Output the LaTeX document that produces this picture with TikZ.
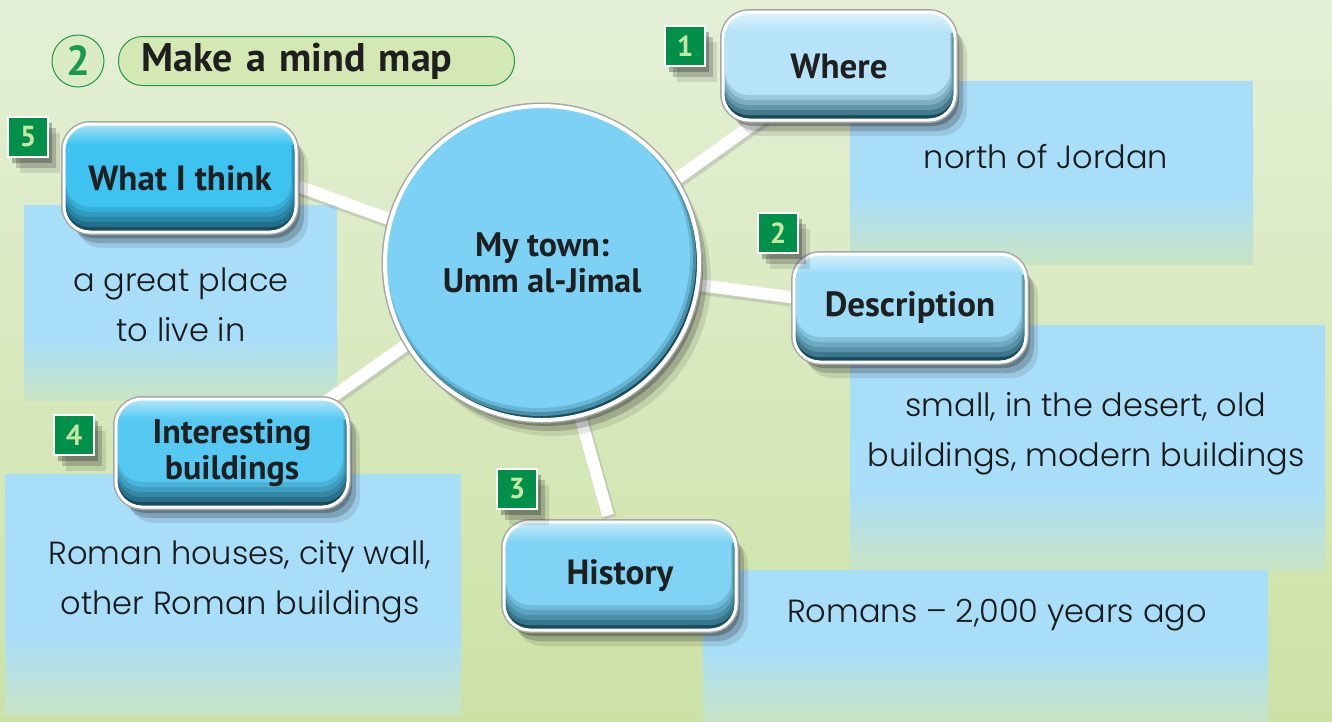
\documentclass[tikz,border=0pt]{standalone}
\usepackage{fontspec}
\setmainfont{PT Sans}
\newfontfamily\hand{Poppins Light}
\usetikzlibrary{shadows}
\definecolor{bgtop}{HTML}{E4F0D6}
\definecolor{bgbot}{HTML}{CCE2A5}
\definecolor{tbblue}{HTML}{A9DEF9}
\definecolor{tbfade}{HTML}{C8E4C4}
\definecolor{gbadge}{HTML}{00904A}
\definecolor{gnum}{HTML}{C9E6A2}
\definecolor{rim}{HTML}{164C5E}
\definecolor{cWhere}{HTML}{B6E3F8}
\definecolor{cWit}{HTML}{3EC3F0}
\definecolor{cIb}{HTML}{56C9F2}
\definecolor{cDesc}{HTML}{9CDCF7}
\definecolor{cHist}{HTML}{80D3F4}
\definecolor{cHub}{HTML}{7DD1F4}
\definecolor{titlegreen}{HTML}{1A9A4E}
\definecolor{pill}{HTML}{D3E8B2}
\pgfdeclarelayer{back}\pgfdeclarelayer{boxes}\pgfdeclarelayer{lines}
\pgfsetlayers{back,boxes,lines,main}
\begin{document}
\begin{tikzpicture}[x=1pt,y=-1pt,
  shadowy/.style={
    drop shadow={shadow xshift=4pt,shadow yshift=-6pt,opacity=0.32,fill=black!85},
    drop shadow={shadow xshift=8pt,shadow yshift=-11pt,opacity=0.22,fill=black!85},
    drop shadow={shadow xshift=12pt,shadow yshift=-16pt,opacity=0.12,fill=black!85}},
  bub/.style={shadowy, preaction={draw=black!35, line width=6pt},
    rounded corners=26pt, minimum width=232pt, minimum height=108pt,
    draw=white, line width=3pt, fill=#1, align=center, text=black!88,
    font=\bfseries\fontsize{35}{35}\selectfont,
    path picture={
      \fill[rim, sharp corners] (path picture bounding box.south west) rectangle (path picture bounding box.north east);
      \fill[#1!30!rim, rounded corners=24pt] ([xshift=1pt,yshift=30pt]path picture bounding box.north west) rectangle ([xshift=-1pt,yshift=5pt]path picture bounding box.south east);
      \fill[#1!48!rim, rounded corners=24pt] ([xshift=1pt,yshift=30pt]path picture bounding box.north west) rectangle ([xshift=-2pt,yshift=10pt]path picture bounding box.south east);
      \fill[#1!65!rim, rounded corners=24pt] ([xshift=1pt,yshift=30pt]path picture bounding box.north west) rectangle ([xshift=-3pt,yshift=15pt]path picture bounding box.south east);
      \fill[#1!82!rim, rounded corners=24pt] ([xshift=2pt,yshift=30pt]path picture bounding box.north west) rectangle ([xshift=-4pt,yshift=20pt]path picture bounding box.south east);
      \fill[#1, rounded corners=24pt] ([xshift=2pt,yshift=30pt]path picture bounding box.north west) rectangle ([xshift=-5pt,yshift=25pt]path picture bounding box.south east);
      \shade[sharp corners, top color=white!55!#1, bottom color=#1] (path picture bounding box.north west) rectangle ([yshift=-20pt]path picture bounding box.north east);
    }},
  badge/.style={shadowy, draw=white, line width=2.5pt, fill=gbadge,
    minimum width=40pt, minimum height=40pt, inner sep=0pt, text=gnum,
    font=\bfseries\fontsize{29}{29}\selectfont},
  handtxt/.style={font=\hand\fontsize{32}{50}\selectfont, align=center, text=black!90},
  conn/.style={draw=white, line width=12pt,
    preaction={draw=black!40, opacity=0.35, line width=14pt, transform canvas={shift={(1.5pt,-2.5pt)}}}}
]
\useasboundingbox (0,0) rectangle (1332,721);
\begin{pgfonlayer}{back}
  \shade[top color=bgtop, bottom color=bgbot] (0,0) rectangle (1332,721);
\end{pgfonlayer}

% text boxes
\begin{pgfonlayer}{boxes}
  \fill[tbblue] (850,81) rectangle (1253,195);
  \shade[top color=tbblue, bottom color=tbfade] (850,195) rectangle (1253,264);
  \fill[tbblue] (24,205) rectangle (337,340);
  \shade[top color=tbblue, bottom color=tbfade] (24,340) rectangle (337,400);
  \fill[tbblue] (850,325) rectangle (1325,490);
  \shade[top color=tbblue, bottom color=tbfade] (850,490) rectangle (1325,570);
  \fill[tbblue] (5,474) rectangle (461,635);
  \shade[top color=tbblue, bottom color=tbfade] (5,635) rectangle (461,715);
  \fill[tbblue] (703,570) rectangle (1268,650);
  \shade[top color=tbblue, bottom color=tbfade] (703,650) rectangle (1268,721);
\end{pgfonlayer}

% title
\node[circle, draw=titlegreen, line width=1pt, fill=pill!50!bgtop, minimum size=52pt, inner sep=0pt,
  text=titlegreen, font=\bfseries\fontsize{42}{42}\selectfont] (num) at (78,61) {2};
\node[draw=titlegreen, line width=1pt, fill=pill, rounded corners=24pt, minimum height=49pt,
  text width=350pt, inner xsep=23pt, align=left, anchor=west, text=black!88,
  font=\bfseries\fontsize{40}{40}\selectfont] (title) at (118,61) {Make a mind map};

% hub
\node[circle, shadowy, preaction={draw=black!35, line width=7pt}, draw=white, line width=4pt,
  fill=cHub, minimum size=314pt, inner sep=0pt, align=center, text=black!88,
  font=\bfseries\fontsize{34}{36}\selectfont,
  path picture={
    \fill[rim] (path picture bounding box.south west) rectangle (path picture bounding box.north east);
    \fill[cHub!50!rim] ([shift={(-2pt,3pt)}]path picture bounding box.center) circle (156pt);
    \fill[cHub!80!rim] ([shift={(-3pt,5pt)}]path picture bounding box.center) circle (154pt);
    \fill[cHub] ([shift={(-4pt,7pt)}]path picture bounding box.center) circle (152pt);
  }] (hub) at (542,263) {My town:\\Umm al-Jimal};

% nodes
\node[bub=cWhere] (where) at (839,66) {Where};
\node[bub=cWit] (wit) at (180,178) {What I think};
\node[bub=cIb, font=\bfseries\fontsize{34}{36}\selectfont] (ib) at (232,453) {Interesting\\buildings};
\node[bub=cDesc] (desc) at (910,308) {Description};
\node[bub=cHist] (hist) at (620,576) {History};

% connectors
\begin{pgfonlayer}{lines}
  \draw[conn] (hub.32) -- ([xshift=-75pt,yshift=5pt]where.south);
  \draw[conn] (hub.164) -- ([yshift=-8pt]wit.east);
  \draw[conn] (hub.211) -- ([xshift=-25pt,yshift=-5pt]ib.north east);
  \draw[conn] (hub.-8) -- ([xshift=5pt,yshift=10pt]desc.west);
  \draw[conn] (hub.-76) -- ([xshift=-12pt,yshift=5pt]hist.north);
\end{pgfonlayer}

% badges
\node[badge] (b1) at (685,46) {1};
\node[badge] (b2) at (778,233) {2};
\node[badge] (b3) at (517,489) {3};
\node[badge] (b4) at (74,435) {4};
\node[badge] (b5) at (28,137) {5};

% texts
\node[handtxt] (t1) at (1046,157) {north of Jordan};
\node[handtxt] (t5) at (181,305) {a great place\\to live in};
\node[handtxt] (t2) at (1086,434) {small, in the desert, old\\buildings, modern buildings};
\node[handtxt] (t4) at (240,582) {Roman houses, city wall,\\other Roman buildings};
\node[handtxt] (t3) at (997,615) {Romans – 2,000 years ago};
\end{tikzpicture}
\end{document}
